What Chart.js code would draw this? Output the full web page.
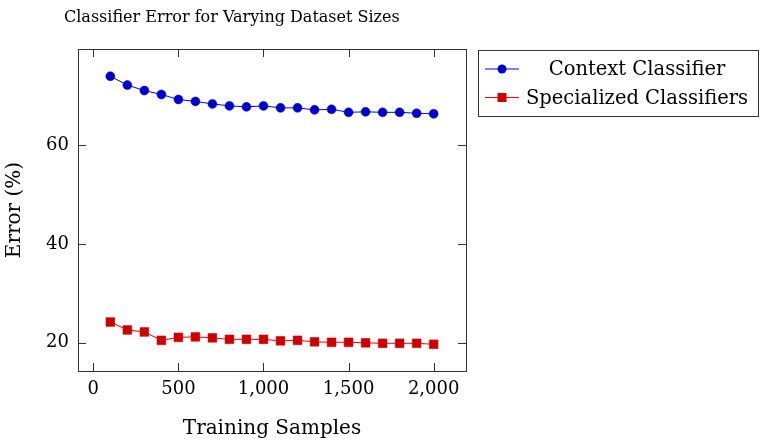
<!DOCTYPE html>
<html>
<head>
<meta charset="utf-8">
<script src="https://cdn.jsdelivr.net/npm/chart.js@4"></script>
<style>
  html, body { margin: 0; padding: 0; background: #fff; }
  #wrap { width: 764px; height: 448px; }
</style>
</head>
<body>
<div id="wrap"><canvas id="chart" width="764" height="448"></canvas></div>
<script>
const chartTitle = "Classifier Error for Varying Dataset Sizes";
const samples = [100, 200, 300, 400, 500, 600, 700, 800, 900, 1000, 1100, 1200, 1300, 1400, 1500, 1600, 1700, 1800, 1900, 2000];
const contextErr = [73.9, 72.1, 71.0, 70.2, 69.2, 68.8, 68.3, 67.9, 67.7, 67.9, 67.5, 67.5, 67.1, 67.2, 66.6, 66.7, 66.6, 66.6, 66.4, 66.3];
const specializedErr = [24.2, 22.6, 22.2, 20.5, 21.1, 21.2, 21.0, 20.7, 20.7, 20.7, 20.4, 20.5, 20.2, 20.1, 20.1, 20.0, 19.9, 19.9, 19.9, 19.7];
const xTicks = [0, 500, 1000, 1500, 2000];
const yTicks = [20, 40, 60];

const FONT = "'DejaVu Serif', serif";

// frame, inward ticks, title and legend box (pgfplots look)
const decor = {
  id: "decor",
  afterDraw(chart) {
    const ctx = chart.ctx;
    const a = chart.chartArea;
    const xs = chart.scales.x;
    const ys = chart.scales.y;
    ctx.save();
    ctx.strokeStyle = "#333";
    ctx.lineWidth = 1;
    ctx.beginPath();
    xTicks.forEach(v => {
      const px = Math.round(xs.getPixelForValue(v)) + 0.5;
      ctx.moveTo(px, a.bottom); ctx.lineTo(px, a.bottom - 8);
      ctx.moveTo(px, a.top); ctx.lineTo(px, a.top + 8);
    });
    yTicks.forEach(v => {
      const py = Math.round(ys.getPixelForValue(v)) + 0.5;
      ctx.moveTo(a.left, py); ctx.lineTo(a.left + 8, py);
      ctx.moveTo(a.right, py); ctx.lineTo(a.right - 8, py);
    });
    ctx.stroke();
    ctx.strokeRect(Math.round(a.left) + 0.5, Math.round(a.top) + 0.5, Math.round(a.right - a.left), Math.round(a.bottom - a.top));

    // title
    ctx.fillStyle = "#000";
    ctx.font = "16px " + FONT;
    ctx.textBaseline = "middle";
    ctx.textAlign = "left";
    ctx.fillText(chartTitle, 64, 17.5);

    // legend
    const lx = 478, ly = 50, lw = 280, lh = 66;
    ctx.strokeStyle = "#333";
    ctx.strokeRect(lx + 0.5, ly + 0.5, lw, lh);
    ctx.font = "19.5px " + FONT;
    ctx.textAlign = "center";
    chart.data.datasets.forEach((ds, i) => {
      const cy = 69 + i * 28.5;
      ctx.strokeStyle = ds.borderColor;
      ctx.lineWidth = 1;
      ctx.beginPath();
      ctx.moveTo(485, cy); ctx.lineTo(519, cy);
      ctx.stroke();
      ctx.fillStyle = ds.pointBackgroundColor;
      if (ds.pointStyle === "rect") {
        ctx.fillRect(502 - 4.5, cy - 4.5, 9, 9);
      } else {
        ctx.beginPath();
        ctx.arc(502, cy, 4.5, 0, Math.PI * 2);
        ctx.fill();
      }
      ctx.fillStyle = "#000";
      ctx.fillText(ds.label, 637, cy + 1);
    });
    ctx.restore();
  }
};

const ctx = document.getElementById("chart").getContext("2d");
new Chart(ctx, {
  type: "line",
  data: {
    datasets: [
      {
        label: "Context Classifier",
        data: samples.map((s, i) => ({ x: s, y: contextErr[i] })),
        borderColor: "rgb(0,0,255)",
        borderWidth: 1,
        pointStyle: "circle",
        pointRadius: 4.5,
        pointBackgroundColor: "rgb(0,0,204)",
        pointBorderColor: "rgb(0,0,204)",
        pointBorderWidth: 0.5,
        tension: 0
      },
      {
        label: "Specialized Classifiers",
        data: samples.map((s, i) => ({ x: s, y: specializedErr[i] })),
        borderColor: "rgb(255,0,0)",
        borderWidth: 1,
        pointStyle: "rect",
        pointRadius: 6.2,
        pointBackgroundColor: "rgb(204,0,0)",
        pointBorderColor: "rgb(204,0,0)",
        pointBorderWidth: 0.5,
        tension: 0
      }
    ]
  },
  options: {
    responsive: false,
    animation: false,
    layout: { padding: { left: 0, right: 298, top: 49, bottom: 0 } },
    plugins: {
      legend: { display: false },
      title: { display: false },
      tooltip: { enabled: false }
    },
    scales: {
      x: {
        type: "linear",
        min: -90,
        max: 2190,
        grid: { display: false, drawTicks: false },
        border: { display: false },
        afterBuildTicks: (scale) => { scale.ticks = xTicks.map(v => ({ value: v })); },
        afterFit: (scale) => { scale.height = 77; },
        ticks: {
          padding: 8,
          color: "#000",
          font: { family: FONT, size: 18 },
          callback: (v) => v.toLocaleString("en-US")
        },
        title: {
          display: true,
          text: "Training Samples",
          color: "#000",
          font: { family: FONT, size: 20 },
          padding: { top: 0, bottom: 7 }
        }
      },
      y: {
        type: "linear",
        min: 14.3,
        max: 79.4,
        grid: { display: false, drawTicks: false },
        border: { display: false },
        afterBuildTicks: (scale) => { scale.ticks = yTicks.map(v => ({ value: v })); },
        afterFit: (scale) => { scale.width = 78; },
        ticks: {
          padding: 9,
          color: "#000",
          font: { family: FONT, size: 18 }
        },
        title: {
          display: true,
          text: "Error (%)",
          color: "#000",
          font: { family: FONT, size: 20 },
          padding: { top: 3, bottom: 0 }
        }
      }
    }
  },
  plugins: [decor]
});
</script>
</body>
</html>
